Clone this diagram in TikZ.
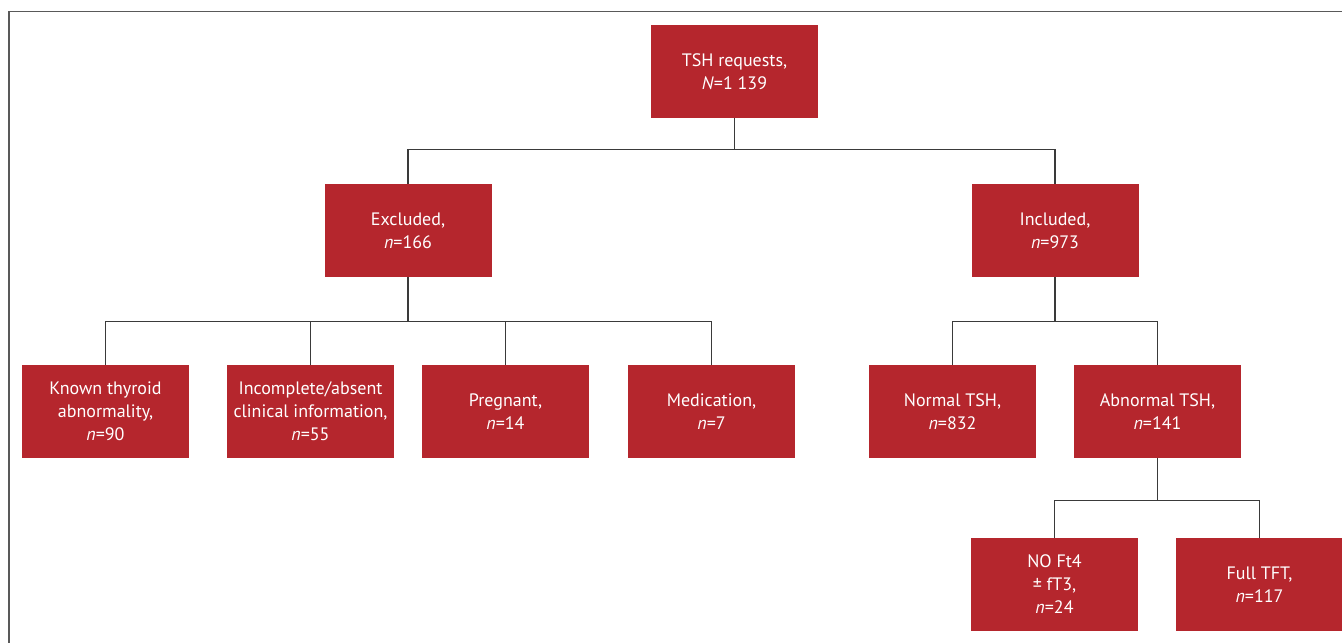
\documentclass[tikz,border=0pt]{standalone}
\usepackage{fontspec}
\setmainfont{PT Sans}
\definecolor{boxred}{HTML}{B5262D}
\definecolor{linegray}{HTML}{3A3A3A}
\tikzset{
  redbox/.style={fill=boxred,text=white,minimum width=125.25pt,minimum height=69.75pt,
    align=center,inner sep=0pt,font=\fontsize{13.5}{17.25}\selectfont},
  link/.style={draw=linegray,line width=1.1pt}
}
\begin{document}
\begin{tikzpicture}[x=0.75pt,y=-0.75pt]
  \useasboundingbox (0,0) rectangle (1342,643);
  % rama
  \draw[gray!70!black,line width=1.1pt] (1342,11.5) -- (9,11.5) -- (9,643);

  % nivelul 1
  \node[redbox] (tsh) at (734.5,71.5) {TSH requests,\\\textit{N}=1 139};
  % nivelul 2
  \node[redbox] (excl) at (408,230.5) {Excluded,\\\textit{n}=166};
  \node[redbox] (incl) at (1055,230.5) {Included,\\\textit{n}=973};
  % nivelul 3
  \node[redbox] (known) at (105.5,411.5) {Known thyroid\\abnormality,\\\textit{n}=90};
  \node[redbox] (incomp) at (310.5,411.5) {Incomplete/absent\\clinical information,\\\textit{n}=55};
  \node[redbox] (preg) at (505.5,411.5) {Pregnant,\\\textit{n}=14};
  \node[redbox] (medic) at (711.5,411.5) {Medication,\\\textit{n}=7};
  \node[redbox] (normal) at (952.5,411.5) {Normal TSH,\\\textit{n}=832};
  \node[redbox] (abnorm) at (1157.5,411.5) {Abnormal TSH,\\\textit{n}=141};
  % nivelul 4
  \node[redbox] (noft) at (1054.5,584.5) {NO Ft4\\± fT3,\\\textit{n}=24};
  \node[redbox] (full) at (1259.5,584.5) {Full TFT,\\\textit{n}=117};

  % legaturi
  \foreach \b in {excl,incl}
    \draw[link] (tsh.south) -- ++(0,31) -| (\b.north);
  \foreach \b in {known,incomp,preg,medic}
    \draw[link] (excl.south) -- ++(0,44) -| (\b.north);
  \foreach \b in {normal,abnorm}
    \draw[link] (incl.south) -- ++(0,44) -| (\b.north);
  \foreach \b in {noft,full}
    \draw[link] (abnorm.south) -- ++(0,42) -| (\b.north);
\end{tikzpicture}
\end{document}
